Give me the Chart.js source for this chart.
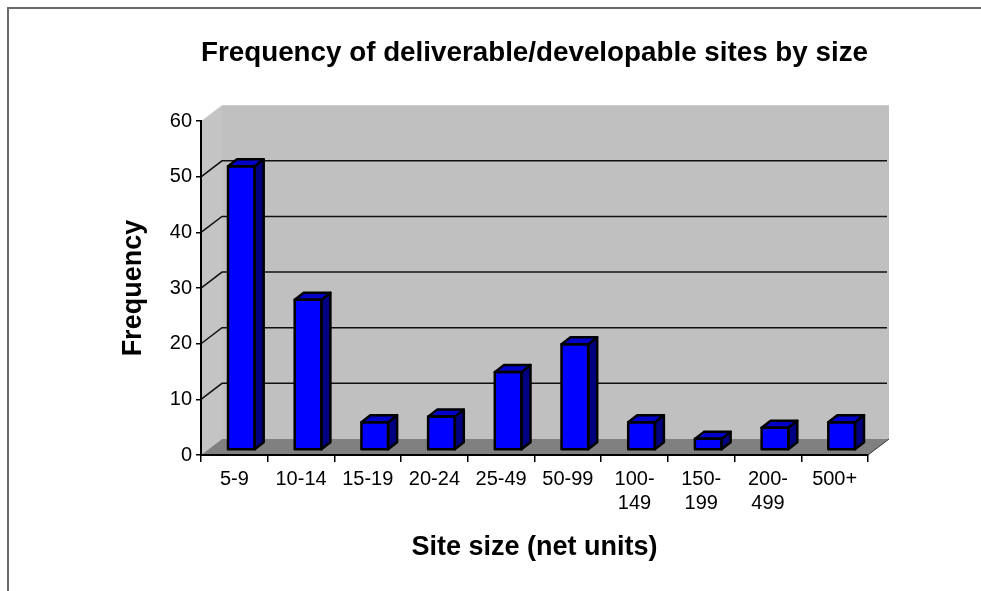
<!DOCTYPE html>
<html lang="en">
<head>
  <meta charset="UTF-8">
  <title>Frequency of deliverable/developable sites by size</title>
  <script src="https://cdn.jsdelivr.net/npm/chart.js"></script>
  <style>
    body { margin: 0; background: #fff; }
  </style>
</head>
<body>
<canvas id="sizeChart" width="981" height="591"></canvas>

<script>
  const categories = ['5-9', '10-14', '15-19', '20-24', '25-49', '50-99', ['100-', '149'], ['150-', '199'], ['200-', '499'], '500+'];
  const frequency = [51, 27, 5, 6, 14, 19, 5, 2, 4, 5];
  const yTicks = [0, 10, 20, 30, 40, 50, 60];

  const FONT = "'Liberation Sans', Arial, sans-serif";
  // depth of the fake 3d box and where the bars sit inside it
  const depthX = 21, depthY = -16;
  const barOffX = 7, barOffY = -5;
  const barDepX = 9, barDepY = -7;

  const box3d = {
    id: 'box3d',
    beforeDraw(chart) {
      const ctx = chart.ctx;
      const area = chart.chartArea;
      const y = chart.scales.y;
      const y0 = y.getPixelForValue(yTicks[0]);
      const yTop = y.getPixelForValue(yTicks[yTicks.length - 1]);
      const l = area.left, r = area.right;

      ctx.save();
      // back wall
      ctx.fillStyle = '#c0c0c0';
      ctx.fillRect(l + depthX, yTop + depthY, r - l, y0 - yTop);
      // left wall
      ctx.fillStyle = '#c4c4c4';
      ctx.beginPath();
      ctx.moveTo(l, y0);
      ctx.lineTo(l, yTop);
      ctx.lineTo(l + depthX, yTop + depthY);
      ctx.lineTo(l + depthX, y0 + depthY);
      ctx.closePath();
      ctx.fill();
      // floor
      ctx.fillStyle = '#808080';
      ctx.strokeStyle = '#3a3a3a';
      ctx.lineWidth = 1;
      ctx.beginPath();
      ctx.moveTo(l, y0);
      ctx.lineTo(r, y0);
      ctx.lineTo(r + depthX, y0 + depthY);
      ctx.lineTo(l + depthX, y0 + depthY);
      ctx.closePath();
      ctx.fill();
      ctx.beginPath();
      ctx.moveTo(r, y0);
      ctx.lineTo(r + depthX, y0 + depthY);
      ctx.stroke();

      // gridlines on the walls
      ctx.strokeStyle = '#111';
      ctx.lineWidth = 1.5;
      yTicks.slice(1, -1).forEach(v => {
        const py = y.getPixelForValue(v);
        ctx.beginPath();
        ctx.moveTo(l, py);
        ctx.lineTo(l + depthX, py + depthY);
        ctx.lineTo(r + depthX - 2, py + depthY);
        ctx.stroke();
      });
      ctx.restore();
    },
    beforeDatasetDraw(chart) {
      chart.ctx.save();
      chart.ctx.translate(barOffX, barOffY);
    },
    afterDatasetDraw(chart, args) {
      const ctx = chart.ctx;
      ctx.lineWidth = 2.5;
      ctx.strokeStyle = '#000';
      ctx.lineJoin = 'round';
      args.meta.data.forEach(bar => {
        const x0 = bar.x - bar.width / 2, x1 = bar.x + bar.width / 2;
        const yt = bar.y, yb = bar.base;
        // side
        ctx.fillStyle = '#000080';
        ctx.beginPath();
        ctx.moveTo(x1, yt);
        ctx.lineTo(x1 + barDepX, yt + barDepY);
        ctx.lineTo(x1 + barDepX, yb + barDepY);
        ctx.lineTo(x1, yb);
        ctx.closePath();
        ctx.fill();
        ctx.stroke();
        // top
        ctx.fillStyle = '#0000c8';
        ctx.beginPath();
        ctx.moveTo(x0, yt);
        ctx.lineTo(x0 + barDepX, yt + barDepY);
        ctx.lineTo(x1 + barDepX, yt + barDepY);
        ctx.lineTo(x1, yt);
        ctx.closePath();
        ctx.fill();
        ctx.stroke();
        // front outline
        ctx.strokeRect(x0, yt, x1 - x0, yb - yt);
      });
      ctx.restore();
    },
    afterDraw(chart) {
      const ctx = chart.ctx;
      ctx.save();
      ctx.strokeStyle = '#6a6a6a';
      ctx.lineWidth = 2;
      ctx.beginPath();
      ctx.moveTo(8, chart.height);
      ctx.lineTo(8, 8);
      ctx.lineTo(chart.width, 8);
      ctx.stroke();
      ctx.restore();
    }
  };

  const ctx = document.getElementById('sizeChart').getContext('2d');
  new Chart(ctx, {
    type: 'bar',
    data: {
      labels: categories,
      datasets: [{
        label: 'Frequency',
        data: frequency,
        backgroundColor: '#0000ff',
        borderWidth: 0,
        categoryPercentage: 1,
        barPercentage: 0.4
      }]
    },
    options: {
      responsive: false,
      animation: false,
      layout: { padding: { top: 0, left: 10, right: 113, bottom: 0 } },
      plugins: {
        legend: { display: false },
        tooltip: { enabled: false },
        title: {
          display: true,
          fullSize: false,
          text: 'Frequency of deliverable/developable sites by size',
          color: '#000',
          font: { family: FONT, size: 28.5, weight: 'bold' },
          padding: { top: 36, bottom: 51 }
        }
      },
      scales: {
        x: {
          grid: { drawOnChartArea: false, color: '#000', tickLength: 7, lineWidth: 1.5 },
          border: { display: true, color: '#000', width: 2 },
          ticks: { color: '#000', padding: 5, maxRotation: 0, autoSkip: false, font: { family: FONT, size: 20 } },
          title: {
            display: true,
            text: 'Site size (net units)',
            color: '#000',
            font: { family: FONT, size: 27, weight: 'bold' },
            padding: { top: 0, bottom: 27 }
          },
          afterFit(scale) { scale.height = 136; }
        },
        y: {
          min: yTicks[0],
          max: yTicks[yTicks.length - 1],
          grid: { drawOnChartArea: false, color: '#000', tickLength: 5, lineWidth: 1.5 },
          border: { display: true, color: '#000', width: 2 },
          ticks: { stepSize: 10, color: '#000', padding: 4, font: { family: FONT, size: 20 } },
          title: {
            display: true,
            text: 'Frequency',
            color: '#000',
            font: { family: FONT, size: 27, weight: 'bold' },
            padding: { top: 107, bottom: 0 }
          },
          afterFit(scale) { scale.width = 191; }
        }
      }
    },
    plugins: [box3d]
  });
</script>
</body>
</html>
